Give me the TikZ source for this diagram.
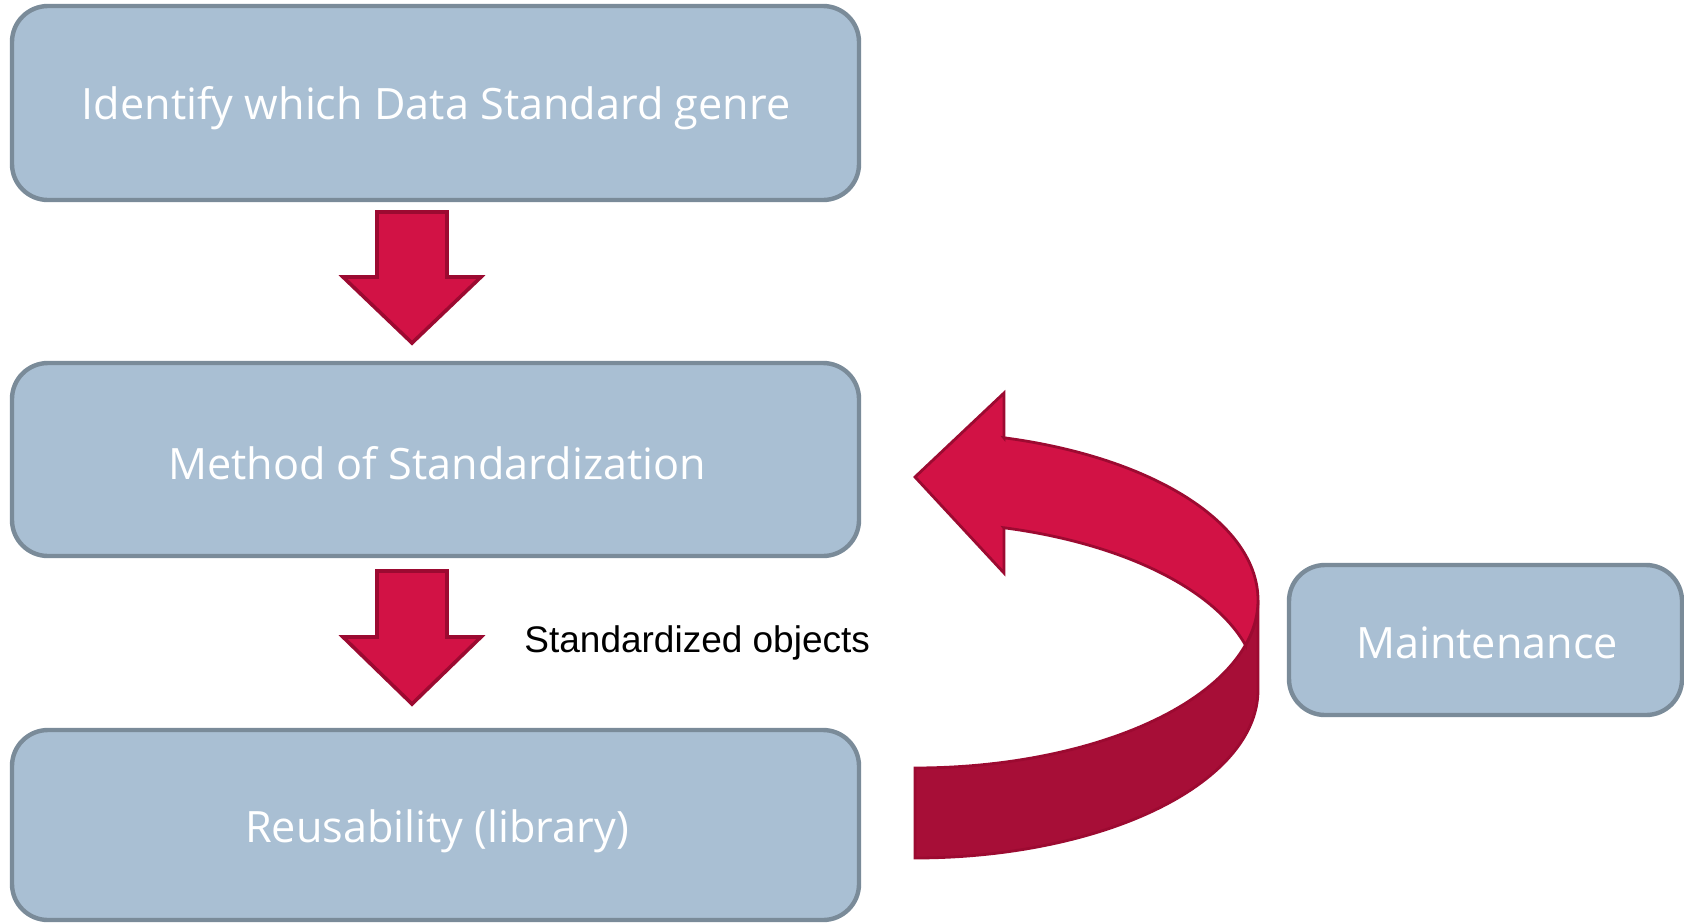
\documentclass[tikz,border=0pt]{standalone}
\usepackage{fontspec}
\setmainfont{Open Sans}
\newfontfamily\arialf{Liberation Sans}
\definecolor{boxfill}{HTML}{A9BFD3}
\definecolor{boxline}{HTML}{7A8B99}
\definecolor{redA}{HTML}{D21245}
\definecolor{redB}{HTML}{A70E37}
\definecolor{redline}{HTML}{9C0A31}
\begin{document}
\begin{tikzpicture}[x=0.5pt,y=-0.5pt,
  box/.style={draw=boxline, fill=boxfill, line width=2.2pt, rounded corners=18pt, inner sep=0pt},
  boxtext/.style={text=white, font=\fontsize{21.6}{26}\selectfont, inner sep=0pt},
  blockarrow/.style={fill=redA, draw=redline, line width=1.8pt, line join=miter},
  ribbonfront/.style={fill=redA, draw=redline, line width=1.4pt, line join=miter},
  ribbonback/.style={fill=redB, draw=redline, line width=1.4pt, line join=miter},
  label/.style={font=\arialf\fontsize{18.5}{22}\selectfont, text=black, inner sep=0pt},
]
\useasboundingbox (0,0) rectangle (1684,922);

% boxes
\node[box, minimum width=423.5pt, minimum height=97pt] (ident) at (435.5,103) {};
\node[boxtext] (identt) at (436,108) {Identify which Data Standard genre};
\node[box, minimum width=423.5pt, minimum height=96.5pt] (method) at (435.5,459.5) {};
\node[boxtext] (methodt) at (437,463) {Method of Standardization};
\node[box, minimum width=423.5pt, minimum height=95pt] (reuse) at (435.5,825) {};
\node[boxtext] (reuset) at (437,831) {Reusability (library)};
\node[box, minimum width=196.5pt, minimum height=75pt] (maint) at (1485.5,640) {};
\node[boxtext] (maintt) at (1487,643) {Maintenance};

% block arrows
\coordinate (a1) at (412,212);
\coordinate (a2) at (412,571);
\draw[blockarrow] (a1) ++(-35,0) -- ++(70,0) -- ++(0,65) -- ++(34,0) -- ++(-69,66) -- ++(-69,-66) -- ++(34,0) -- cycle;
\draw[blockarrow] (a2) ++(-35,0) -- ++(70,0) -- ++(0,66) -- ++(34,0) -- ++(-69,67) -- ++(-69,-67) -- ++(34,0) -- cycle;

\node[label, anchor=west] (stdobj) at (524,643) {Standardized objects};

% curved ribbon arrow
\draw[ribbonback, samples=60]
  plot[domain=0:90] ({915+343*cos(\x)},{600+168*sin(\x)})
  -- plot[domain=90:0] ({915+343*cos(\x)},{690+168*sin(\x)}) -- cycle;
\draw[ribbonfront, samples=60]
  (1004,528) -- (1004,573) -- (915,477) -- (1004,393) -- (1004,438)
  -- plot[domain=-75:0] ({915+343*cos(\x)},{600+168*sin(\x)})
  -- plot[domain=0:15.5] ({915+343*cos(\x)},{600+168*sin(\x)})
  -- plot[domain=-15.5:-75] ({915+343*cos(\x)},{690+168*sin(\x)}) -- cycle;
\end{tikzpicture}
\end{document}
